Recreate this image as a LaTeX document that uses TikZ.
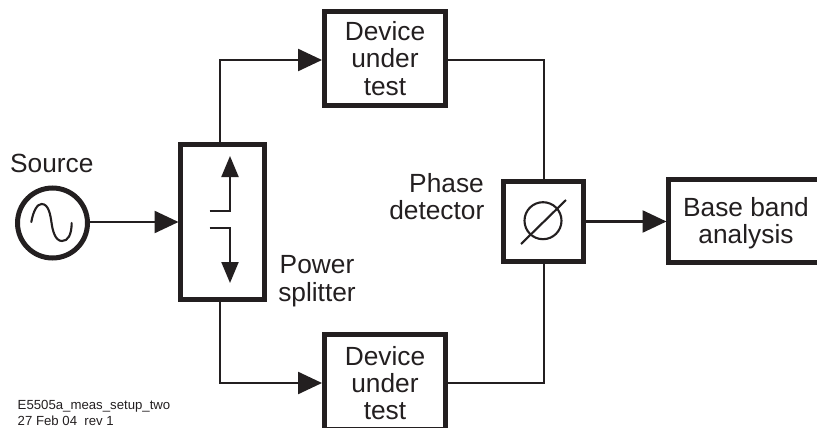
\documentclass[tikz,border=0pt]{standalone}
\usepackage{fontspec}
\setmainfont{Liberation Sans}
\usetikzlibrary{arrows.meta}
\definecolor{ink}{HTML}{231F20}
\tikzset{
  x=1pt,y=-1pt,
  blockbox/.style={draw=ink,line width=5pt,fill=white,inner sep=0pt,outer sep=0pt,minimum width=#1},
  wire/.style={draw=ink,line width=2.5pt},
  feed/.style={wire,-{Triangle[length=24pt,width=22pt,fill=ink]}},
  thin wire/.style={draw=ink,line width=2.1pt},
  lbl/.style={text=ink,font=\fontsize{26.3}{27.2}\selectfont,align=center,inner sep=0pt},
  foot/.style={text=ink,font=\fontsize{13.2}{16}\selectfont,align=left,inner sep=0pt,anchor=base west},
}
\begin{document}
\begin{tikzpicture}
\useasboundingbox (0,0) rectangle (817,428);
\clip (0,0) rectangle (817,428);
% blocks (centres of line)
\node[blockbox=121.5pt,minimum height=94.5pt] (dutA) at (385,58.5) {};
\node[lbl] at (385,58.5) {Device\\under\\test};
\node[blockbox=121.5pt,minimum height=94.5pt] (dutB) at (385,382) {};
\node[lbl] at (385,383) {Device\\under\\test};
\node[blockbox=84pt,minimum height=155pt] (split) at (222.5,222) {};
\node[blockbox=80pt,minimum height=80pt] (phase) at (543.3,221.5) {};
\node[blockbox=155pt,minimum height=83pt] (base) at (746,221) {};
\node[lbl] at (746,223) {Base band\\analysis};
\node[circle,draw=ink,line width=5pt,fill=white,inner sep=0pt,outer sep=0pt,minimum size=70pt] (src) at (52.5,223) {};
% connectors
\coordinate (splitTop) at (220,142);
\coordinate (splitBot) at (220,302);
\coordinate (phTop) at (544,179);
\coordinate (phBot) at (544,264);
\coordinate (aIn) at (322,60);
\coordinate (aOut) at (448,60);
\coordinate (bIn) at (322,383);
\coordinate (bOut) at (448,383);
\draw[feed] (src.east |- 0,222) -- (178.5,222);
\draw[feed] (splitTop) |- (aIn);
\draw[feed] (splitBot) |- (bIn);
\draw[wire,line join=miter] (aOut) -| (phTop);
\draw[wire,line join=miter] (bOut) -| (phBot);
\draw[feed] (585.5,221.5) -- (666.5,221.5);
% splitter inner
\coordinate (upS) at (209.5,211);
\coordinate (upT) at (230,156);
\coordinate (dnS) at (209.5,228);
\coordinate (dnT) at (230,283);
\draw[thin wire,-{Triangle[length=21pt,width=17pt,fill=ink]}] (upS) -| (upT);
\draw[thin wire,-{Triangle[length=21pt,width=17pt,fill=ink]}] (dnS) -| (dnT);
% sine
\draw[thin wire,line cap=round] (31.3,222) .. controls (33.5,210) and (37.5,204) .. (41.7,204)
  .. controls (49,204) and (50.5,216) .. (51.5,222.5)
  .. controls (52.5,230) and (55,241) .. (62,241)
  .. controls (68,241) and (71.5,235) .. (71.7,223);
% phase symbol
\draw[thin wire] (543,220.7) circle (18.5);
\draw[thin wire] (521,244) -- (566,200);
% labels
\node[lbl,anchor=base west] (lsrc) at (10,172) {Source};
\node[lbl,anchor=base] (lpow) at (317,273) {Power};
\node[lbl,anchor=base] (lspl) at (317,301) {splitter};
\node[lbl,anchor=base east] (lpha) at (484,192.7) {Phase};
\node[lbl,anchor=base east] (ldet) at (484.5,219) {detector};
\node[foot] (f1) at (17.5,409) {E5505a\_meas\_setup\_two};
\node[foot] (f2) at (17.5,425) {27 Feb 04\ \ rev 1};
\end{tikzpicture}
\end{document}
